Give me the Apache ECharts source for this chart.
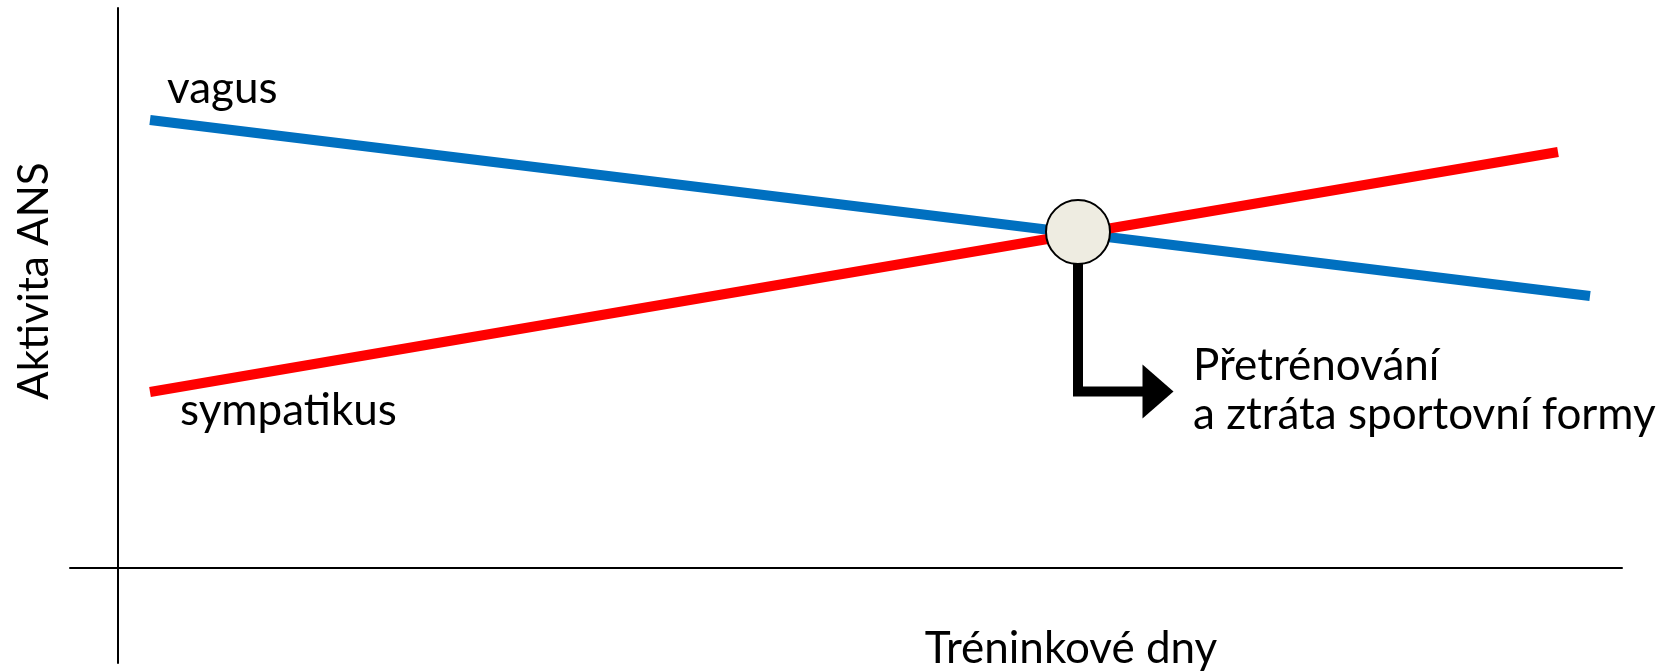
<!DOCTYPE html>
<html>
<head>
<meta charset="utf-8">
<script src="https://cdn.jsdelivr.net/npm/echarts@6/dist/echarts.min.js"></script>
<style>
  html, body { margin: 0; padding: 0; background: #ffffff; }
  #chart { width: 1674px; height: 672px; }
</style>
</head>
<body>
<div id="chart"></div>
<script>
// Training days on x, ANS activity on y (arbitrary units)
const vagusDays = [2, 92];
const vagusValues = [89.6, 54.4];
const sympDays = [2, 90];
const sympValues = [35.2, 83.2];
// point where sympathetic activity overtakes vagal activity
const crossing = [60, 67.2];
// elbow arrow leading from the crossing to the note
const arrowDays = [60, 60, 65];
const arrowValues = [67.2, 35.3, 35.3];

const FONT = 'Lato, "Open Sans", sans-serif';
const FS = 44;

const chart = echarts.init(document.getElementById('chart'));

const pairs = (xs, ys) => xs.map((x, i) => [x, ys[i]]);

chart.setOption({
  animation: false,
  backgroundColor: '#ffffff',
  grid: { left: 70, right: 52, top: 8, bottom: 9, containLabel: false, outerBoundsMode: 'none' },
  xAxis: {
    type: 'value', min: -3, max: 94,
    axisLine: { show: true, onZero: true, lineStyle: { color: '#000', width: 2 } },
    axisTick: { show: false }, axisLabel: { show: false }, splitLine: { show: false }
  },
  yAxis: {
    type: 'value', min: -19, max: 112,
    axisLine: { show: true, onZero: true, lineStyle: { color: '#000', width: 2 } },
    axisTick: { show: false }, axisLabel: { show: false }, splitLine: { show: false }
  },
  series: [
    {
      name: 'vagus', type: 'line', data: pairs(vagusDays, vagusValues),
      symbol: 'none', lineStyle: { color: '#0070C0', width: 10, cap: 'butt' }, z: 3
    },
    {
      name: 'sympatikus', type: 'line', data: pairs(sympDays, sympValues),
      symbol: 'none', lineStyle: { color: '#FF0000', width: 10, cap: 'butt' }, z: 4
    },
    {
      name: 'arrow', type: 'line', data: pairs(arrowDays, arrowValues),
      symbol: 'none', lineStyle: { color: '#000', width: 10, join: 'miter', cap: 'butt' }, z: 5
    },
    {
      name: 'arrowhead', type: 'scatter',
      data: [[arrowDays[arrowDays.length - 1], arrowValues[arrowValues.length - 1]]],
      symbol: 'triangle', symbolSize: [54, 31], symbolRotate: -90,
      itemStyle: { color: '#000', opacity: 1 }, z: 6
    },
    {
      name: 'crossing', type: 'scatter', data: [crossing],
      symbol: 'circle', symbolSize: 64,
      itemStyle: { color: '#EEECE1', borderColor: '#000', borderWidth: 2, opacity: 1 }, z: 7
    }
  ],
  graphic: [
    { type: 'text', x: 167, y: 103 - 14, style: { text: 'vagus', font: FS + 'px ' + FONT, fill: '#000', align: 'left', verticalAlign: 'middle' } },
    { type: 'text', x: 180, y: 425 - 14, style: { text: 'sympatikus', font: FS + 'px ' + FONT, fill: '#000', align: 'left', verticalAlign: 'middle' } },
    { type: 'text', x: 1193, y: 380 - 14, style: { text: 'Přetrénování', font: FS + 'px ' + FONT, fill: '#000', align: 'left', verticalAlign: 'middle' } },
    { type: 'text', x: 1193, y: 429 - 14, style: { text: 'a ztráta sportovní formy', font: FS + 'px ' + FONT, fill: '#000', align: 'left', verticalAlign: 'middle' } },
    { type: 'text', x: 1071, y: 663 - 14, style: { text: 'Tréninkové dny', font: FS + 'px ' + FONT, fill: '#000', align: 'center', verticalAlign: 'middle' } },
    { type: 'text', x: 34, y: 281, rotation: Math.PI / 2, style: { text: 'Aktivita ANS', font: '42px ' + FONT, fill: '#000', align: 'center', verticalAlign: 'middle' } }
  ]
});
</script>
</body>
</html>
